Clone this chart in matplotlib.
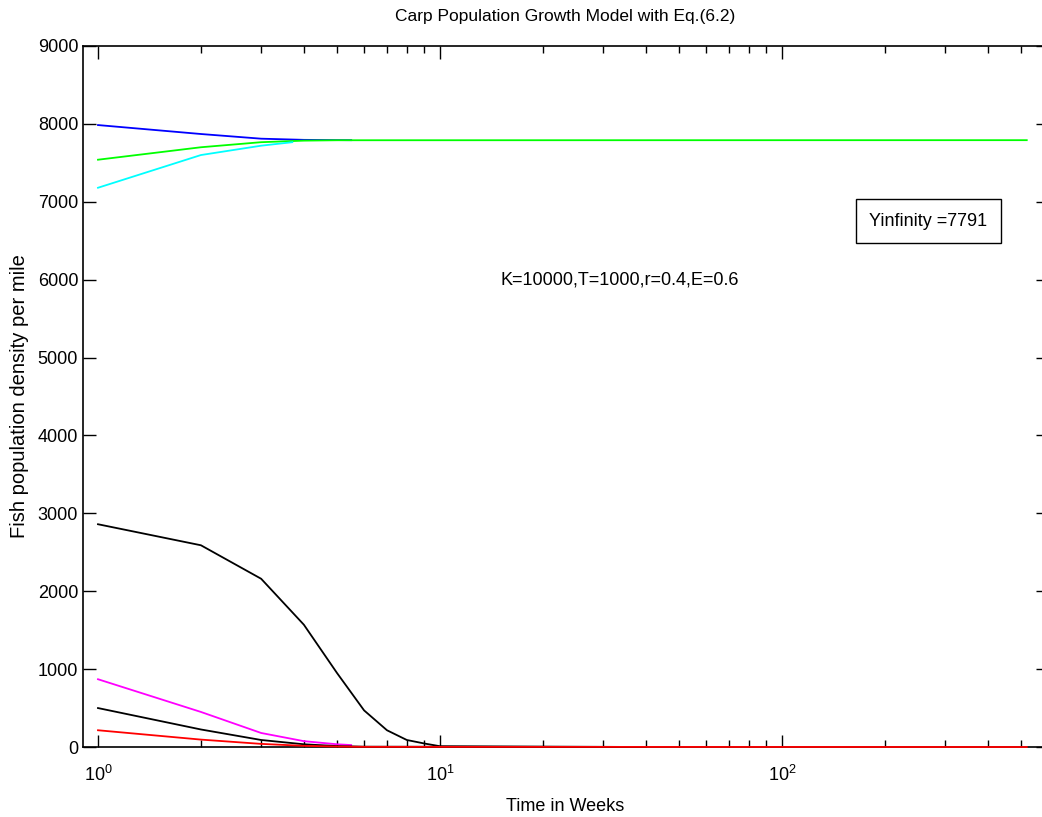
import matplotlib
matplotlib.use("Agg")
import matplotlib.pyplot as plt
from matplotlib.ticker import LogLocator, FixedLocator

plt.rcParams['font.family'] = ['Liberation Sans Narrow', 'Liberation Sans', 'DejaVu Sans']
plt.rcParams['mathtext.fontset'] = 'custom'
plt.rcParams['mathtext.rm'] = 'Liberation Sans'
plt.rcParams['mathtext.it'] = 'Liberation Sans'

# values (time in weeks, fish per mile)
t_blue = [1, 2, 3, 4, 5, 5.5]
y_blue = [7985, 7870, 7810, 7795, 7792, 7791]

t_green = [1, 2, 3, 4, 5, 520]
y_green = [7540, 7700, 7765, 7785, 7790, 7791]

t_cyan = [1, 2, 3, 3.7]
y_cyan = [7180, 7600, 7720, 7765]

t_black1 = [1, 2, 3, 4, 5, 6, 7, 8, 9, 10, 40]
y_black1 = [2860, 2590, 2160, 1570, 950, 470, 215, 90, 45, 10, 0]

t_mag = [1, 2, 3, 4, 5, 5.5]
y_mag = [870, 450, 180, 75, 35, 25]

t_black2 = [1, 2, 3, 4, 5, 6, 40]
y_black2 = [500, 225, 90, 35, 12, 4, 0]

t_red = [1, 2, 3, 4, 5, 6, 520]
y_red = [215, 95, 40, 15, 6, 2, 0]

fig = plt.figure(figsize=(10.42, 8.17), dpi=100)
ax = fig.add_axes([83 / 1042, 70 / 817, 965 / 1042, 701 / 817])

lw = 1.3
series = [(t_blue, y_blue, '#0000ff'), (t_green, y_green, '#00ff00'),
          (t_cyan, y_cyan, '#00ffff'), (t_black1, y_black1, 'k'),
          (t_mag, y_mag, '#ff00ff'), (t_black2, y_black2, 'k'),
          (t_red, y_red, '#ff0000')]
for t, y, c in series:
    ax.semilogx(t, y, color=c, lw=lw, zorder=3, clip_on=False)

ax.set_xlim(0.904, 600)
ax.set_ylim(0, 9000)
ax.yaxis.set_major_locator(FixedLocator(range(0, 9001, 1000)))
ax.xaxis.set_major_locator(LogLocator(base=10, numticks=10))
ax.xaxis.set_minor_locator(LogLocator(base=10, subs=range(2, 10), numticks=20))

ax.tick_params(which='both', direction='in', top=True, right=True, labelsize=13)
ax.tick_params(which='major', length=9, width=1)
ax.tick_params(which='minor', length=5, width=1)
ax.tick_params(axis='x', which='major', pad=13)
for s in ax.spines.values():
    s.set_linewidth(1.2)

ax.set_title('Carp Population Growth Model with Eq.(6.2)', fontsize=12.5, pad=18)
ax.set_xlabel('Time in Weeks', fontsize=13, labelpad=9)
ax.set_ylabel('Fish population density per mile', fontsize=14.5,
              family=['Liberation Sans', 'DejaVu Sans'], labelpad=6)

ax.text(15, 6000, 'K=10000,T=1000,r=0.4,E=0.6', fontsize=13, va='center', ha='left')
ax.text(180, 6750, 'Yinfinity =7791', fontsize=13, va='center', ha='left',
        bbox=dict(boxstyle='square,pad=0.75', fc='white', ec='k', lw=1))

fig.savefig('out.png', dpi=100)
